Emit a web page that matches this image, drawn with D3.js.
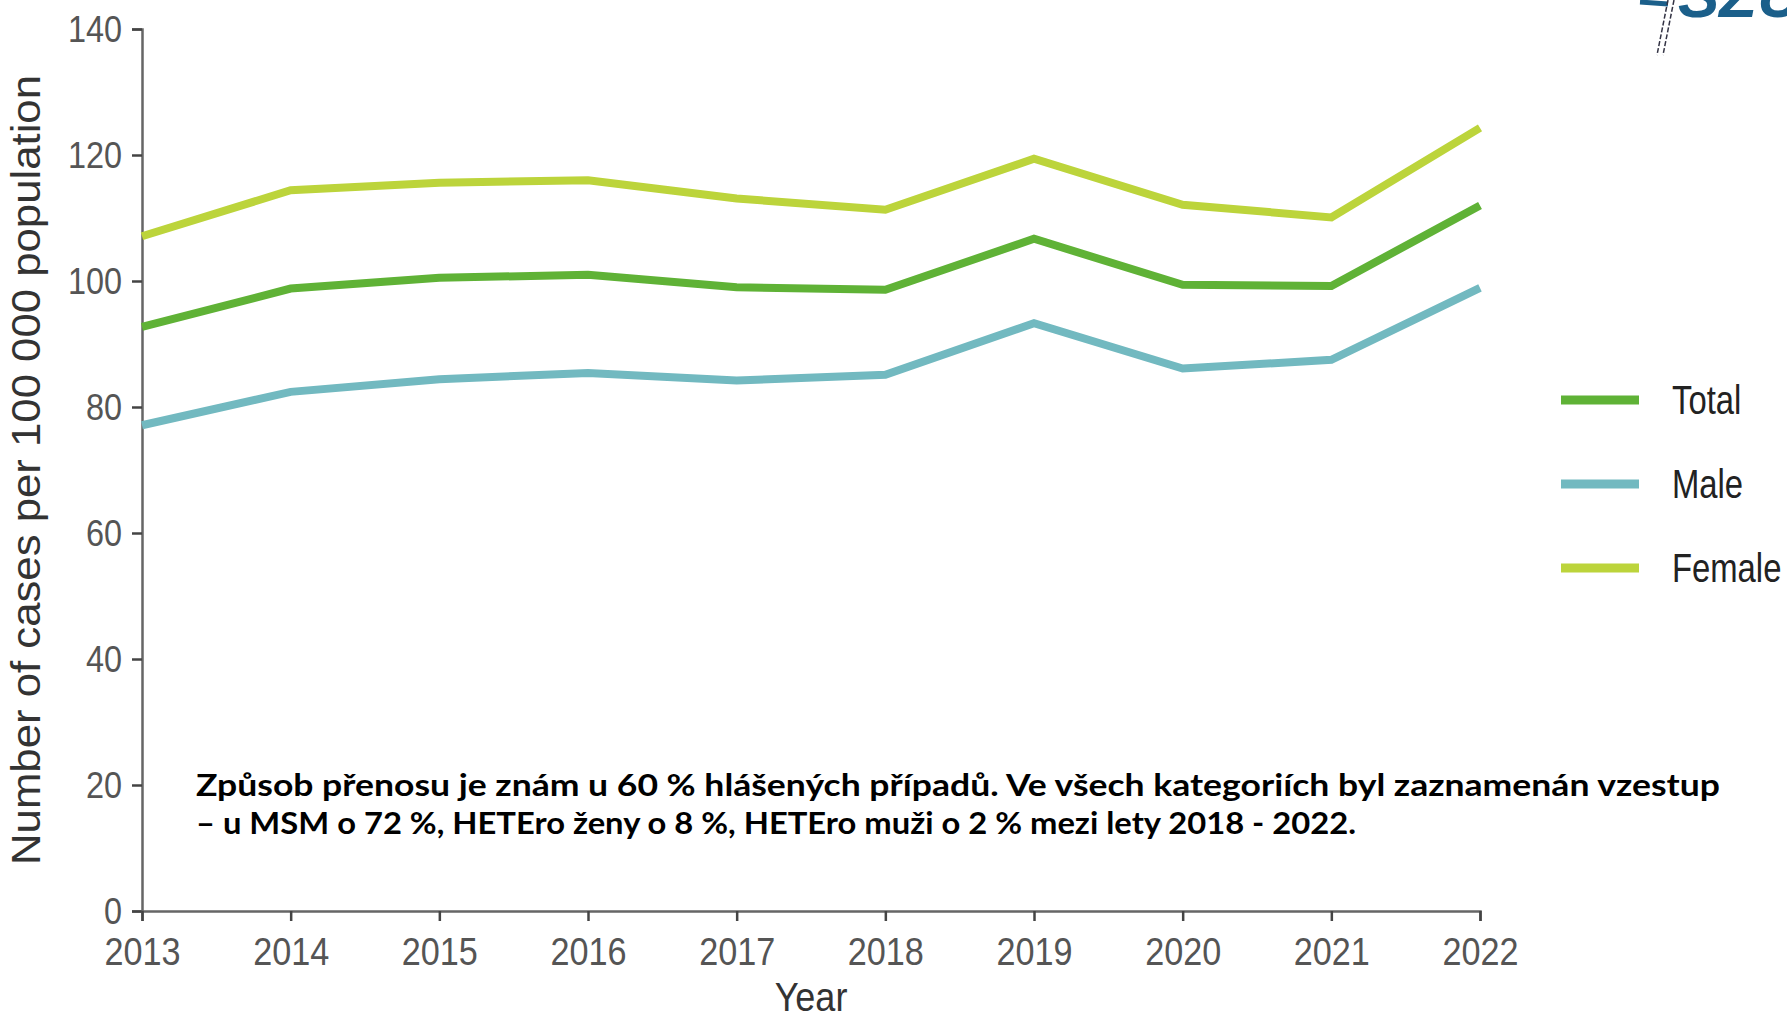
<!DOCTYPE html>
<html>
<head>
<meta charset="utf-8">
<script src="https://cdn.jsdelivr.net/npm/d3@7"></script>
<style>
  body { margin: 0; background: #fff; }
  svg { display: block; }
  .axis path { stroke: #666; stroke-width: 2.5; }
  .axis line { stroke: #444; stroke-width: 2.5; }
  .axis text { font-family: "Liberation Sans", Arial, sans-serif; fill: #555; }
</style>
</head>
<body>
<div id="chart"></div>
<script>
// values
const years = [2013, 2014, 2015, 2016, 2017, 2018, 2019, 2020, 2021, 2022];
const total = [92.7, 98.8, 100.5, 101.0, 99.0, 98.6, 106.7, 99.4, 99.2, 112.0];
const male = [77.1, 82.4, 84.4, 85.4, 84.2, 85.1, 93.3, 86.1, 87.5, 98.9];
const female = [107.1, 114.4, 115.6, 116.0, 113.1, 111.3, 119.4, 112.1, 110.1, 124.3];
const seriesNames = ["Total", "Male", "Female"];
const seriesColors = ["#5fb236", "#72b9c0", "#bcd43b"];
const yTicks = [0, 20, 40, 60, 80, 100, 120, 140];
const note = [
  "Způsob přenosu je znám u 60 % hlášených případů. Ve všech kategoriích byl zaznamenán vzestup",
  "– u MSM o 72 %, HETEro ženy o 8 %, HETEro muži o 2 % mezi lety 2018 - 2022."
];

const width = 1787, height = 1021;
const plotLeft = 142, plotRight = 1480, plotTop = 29, plotBottom = 911;

const svg = d3.select("#chart").append("svg")
    .attr("width", width)
    .attr("height", height);

const x = d3.scaleLinear().domain([2013, 2022]).range([plotLeft, plotRight]);
const y = d3.scaleLinear().domain([0, 140]).range([plotBottom, plotTop]);

// the original text looks squeezed sideways, so narrow the glyphs a little
function squeeze(sel, k) {
    sel.each(function () {
        const w = this.getComputedTextLength();
        d3.select(this).attr("textLength", w * k).attr("lengthAdjust", "spacingAndGlyphs");
    });
}

// axes
svg.append("g")
    .attr("class", "axis")
    .attr("transform", `translate(${plotLeft},0)`)
    .call(d3.axisLeft(y).tickValues(yTicks).tickSize(10).tickPadding(10))
    .call(g => g.selectAll("text").attr("font-size", 36).attr("dy", "0.36em").call(squeeze, 0.9));

svg.append("g")
    .attr("class", "axis")
    .attr("transform", `translate(0,${plotBottom})`)
    .call(d3.axisBottom(x).tickValues(years).tickFormat(d3.format("d")).tickSize(10).tickPadding(17))
    .call(g => g.selectAll("text").attr("font-size", 38).call(squeeze, 0.9));

// axis titles
svg.append("text")
    .attr("transform", `translate(40,${(plotTop + plotBottom) / 2}) rotate(-90)`)
    .attr("text-anchor", "middle")
    .attr("font-family", "Liberation Sans, Arial, sans-serif")
    .attr("font-size", 41)
    .attr("fill", "#333")
    .attr("textLength", 790)
    .attr("lengthAdjust", "spacingAndGlyphs")
    .text("Number of cases per 100 000 population");

svg.append("text")
    .attr("x", (plotLeft + plotRight) / 2)
    .attr("y", 1011)
    .attr("text-anchor", "middle")
    .attr("font-family", "Liberation Sans, Arial, sans-serif")
    .attr("font-size", 40)
    .attr("fill", "#333")
    .text("Year")
    .call(squeeze, 0.9);

// lines
const data = [total, male, female];
const line = d3.line()
    .x((d, i) => x(years[i]))
    .y(d => y(d));

svg.append("g")
    .selectAll("path")
    .data(data)
    .join("path")
    .attr("d", line)
    .attr("fill", "none")
    .attr("stroke", (d, i) => seriesColors[i])
    .attr("stroke-width", 8);

// legend
const legend = svg.append("g")
    .selectAll("g")
    .data(seriesNames)
    .join("g")
    .attr("transform", (d, i) => `translate(1561,${400 + i * 84})`);

legend.append("line")
    .attr("x1", 0).attr("x2", 78)
    .attr("stroke", (d, i) => seriesColors[i])
    .attr("stroke-width", 9);

legend.append("text")
    .attr("x", 111)
    .attr("dy", "0.36em")
    .attr("font-family", "Liberation Sans, Arial, sans-serif")
    .attr("font-size", 40)
    .attr("fill", "#222")
    .text(d => d)
    .call(squeeze, 0.82);

// annotation
const noteWidths = [1524, 1160];
svg.append("g")
    .selectAll("text")
    .data(note)
    .join("text")
    .attr("x", 196)
    .attr("y", (d, i) => 796 + i * 38)
    .attr("font-family", "Lato, 'Noto Sans', sans-serif")
    .attr("font-weight", "bold")
    .attr("font-size", 31)
    .attr("fill", "#000")
    .attr("textLength", (d, i) => noteWidths[i])
    .attr("lengthAdjust", "spacingAndGlyphs")
    .text(d => d);

// cut-off logo in the corner
const logo = svg.append("g");
logo.append("text")
    .attr("x", 1678)
    .attr("y", 17)
    .attr("font-family", "Liberation Sans, Arial, sans-serif")
    .attr("font-weight", "bold")
    .attr("font-style", "italic")
    .attr("font-size", 62)
    .attr("fill", "#1b5f8a")
    .text("SZÚ");
logo.append("path")
    .attr("d", "M1640,2 L1668,4")
    .attr("stroke", "#1b5f8a")
    .attr("stroke-width", 5);
logo.selectAll("line.dash")
    .data([0, 6])
    .join("line")
    .attr("x1", d => 1668 + d).attr("y1", 0)
    .attr("x2", d => 1657 + d).attr("y2", 55)
    .attr("stroke", "#334")
    .attr("stroke-width", 1.5)
    .attr("stroke-dasharray", "5,2");
</script>
</body>
</html>
